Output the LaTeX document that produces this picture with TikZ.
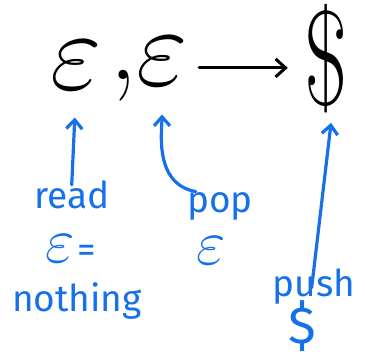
\RequirePackage{fix-cm}
\documentclass[tikz,border=0pt]{standalone}
\usepackage{fontspec}
\setsansfont{Fira Sans}
\usetikzlibrary{arrows.meta}
\definecolor{pen}{RGB}{22,112,236}
\tikzset{
  big/.style={inner sep=0pt,anchor=base,font=\fontsize{112}{112}\selectfont},
  note/.style={pen,inner sep=0pt,anchor=base,font=\sffamily\fontsize{37}{37}\selectfont},
  noteeps/.style={pen,inner sep=0pt,anchor=base,font=\fontsize{64}{64}\selectfont},
  hint/.style={pen,line width=3.2pt,line cap=round,-{Straight Barb[length=9pt,width=16pt]}}
}
\begin{document}
\begin{tikzpicture}[x=1pt,y=-1pt,line width=3pt,>={Straight Barb[length=10pt,width=18pt]}]
  \useasboundingbox (0,0) rectangle (365,361);
  % the transition label
  \node[big] (eps1) at (76,90) {$\varepsilon$};
  \node[big] (comma) at (123,80) {,};
  \node[big] (eps2) at (162,86) {$\varepsilon$};
  \node[inner sep=0pt,anchor=base,font=\fontsize{135}{135}\selectfont] (dollar) at (326,106) {\scalebox{.7}[1]{\$}};
  \draw[->,line cap=round,shorten <=10pt,shorten >=15pt] ([yshift=-6pt]eps2.east) -- ([yshift=-6pt]eps2.east -| dollar.west);
  % notes
  \node[note] (read) at (72,208) {read};
  \node[noteeps] (readeps) at (60,262) {$\varepsilon$};
  \node[note,anchor=base west] (readeq) at (readeps.base east) {=};
  \node[note] (nothing) at (77,312) {nothing};
  \node[note] (pop) at (220,213) {pop};
  \node[noteeps] (popeps) at (211,265) {$\varepsilon$};
  \node[note] (push) at (314,297) {push};
  \node[pen,inner sep=0pt,anchor=base,font=\sffamily\fontsize{52}{52}\selectfont] (pushdollar) at (302,344) {\$};
  \draw[hint,shorten <=-6pt,shorten >=26pt] (read.north) -- (eps1.south);
  \draw[hint,shorten >=27pt] ([xshift=10pt]pop.north west) to[out=170,in=-90] (eps2.south);
  \draw[hint,shorten <=-20pt,shorten >=8pt] (push.north) -- ([xshift=6pt]dollar.south);
\end{tikzpicture}
\end{document}
